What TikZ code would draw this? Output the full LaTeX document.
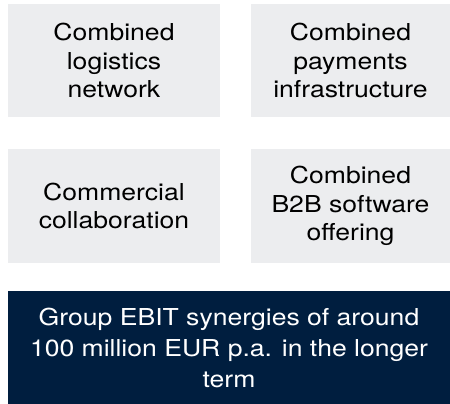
\documentclass[tikz,border=0pt]{standalone}
\usepackage{fontspec}
\setmainfont[FakeStretch=1.14]{TeX Gyre Heros}
\definecolor{tilegray}{RGB}{236,237,239}
\definecolor{groupnavy}{RGB}{0,30,63}
\begin{document}
\begin{tikzpicture}[x=1pt,y=1pt,yscale=-1,xscale=1,
    tile/.style={fill=tilegray,draw=none,inner sep=0pt,align=center,font=\fontsize{23.3}{28.3}\selectfont},
    resultbox/.style={fill=groupnavy,draw=none,inner sep=0pt,align=center,text=white,font=\fontsize{23.3}{31}\selectfont}]
    \useasboundingbox (0,0) rectangle (450,404);

    % Text Node
    \node (logistics) [tile,minimum width=212,minimum height=113] at (114,60.5) {Combined\\logistics\\network};
    % Text Node
    \node (payments) [tile,minimum width=199,minimum height=113] at (350.5,60.5) {Combined\\payments\\infrastructure};
    % Text Node
    \node (commercial) [tile,minimum width=212,minimum height=114] at (114,206) {Commercial\\collaboration};
    % Text Node
    \node (software) [tile,minimum width=199,minimum height=114] at (350.5,206) {Combined\\B2B software\\offering};
    % Text Node
    \node (synergies) [resultbox,minimum width=442,minimum height=113] at (229,347.5) {Group EBIT synergies of around\\100 million EUR p.a. in the longer\\term};

\end{tikzpicture}
\end{document}
